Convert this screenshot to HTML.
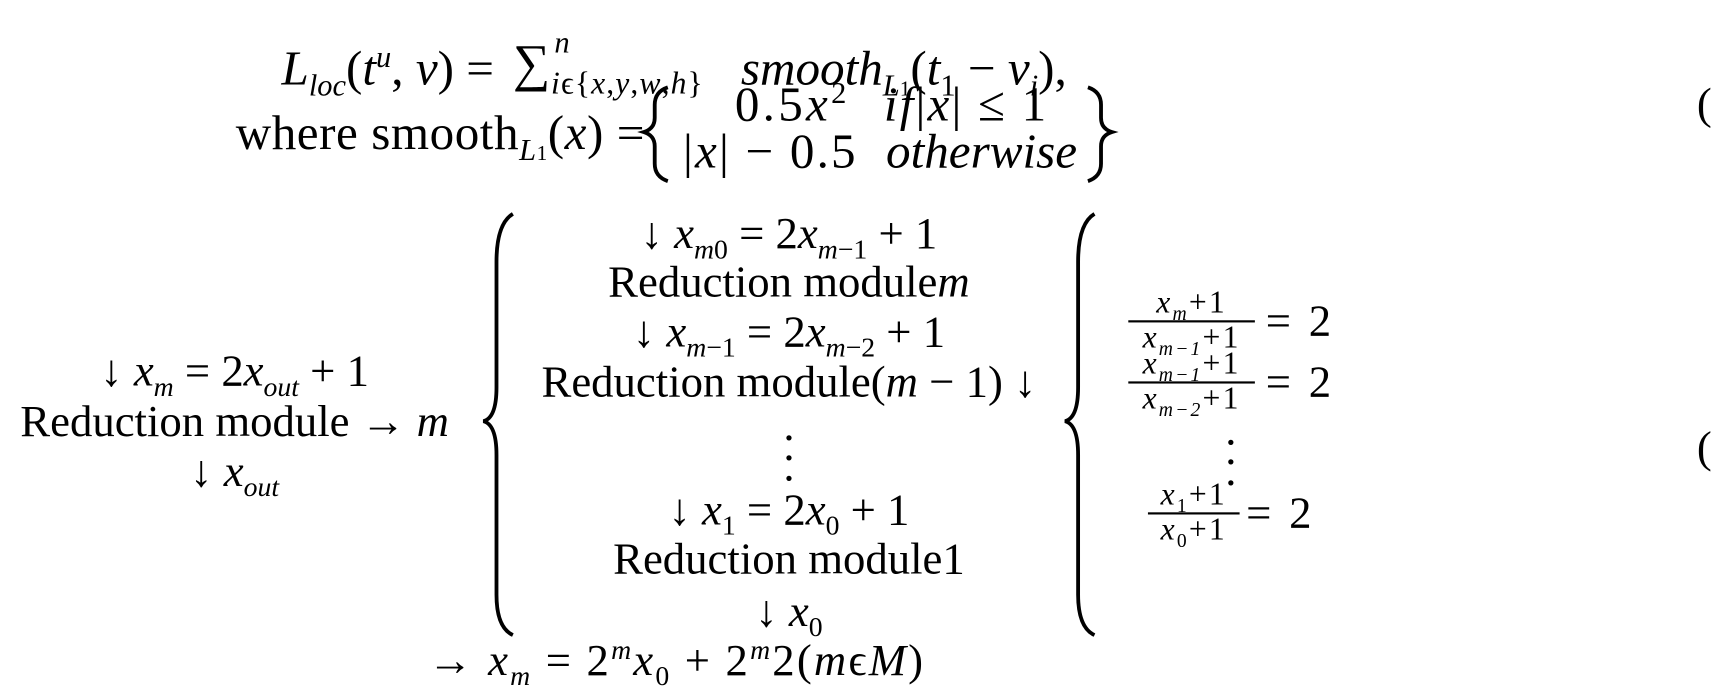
<!DOCTYPE html>
<html><head><meta charset="utf-8"><style>
body{margin:0;width:1711px;height:675px;background:#fff;position:relative;overflow:hidden;font-family:"Liberation Serif",serif;color:#000}
#w{position:absolute;left:0;top:0;width:1568px;height:619px;transform:scale(1.0912);transform-origin:0 0;font-size:41px}
.c{position:absolute;transform:translate(-50%,-50%);white-space:nowrap;line-height:1}
.l{position:absolute;transform:translateY(-50%);white-space:nowrap;line-height:1}
.t{font-size:45px}
i{font-style:italic}
sub,sup{font-size:62%;line-height:0}
.fr{position:absolute;width:116px;text-align:center;font-size:29px;line-height:1;transform:translateY(-50%)}
.fr div{letter-spacing:2px}
.fr div:first-child{border-bottom:2px solid #000;padding-bottom:1px}
</style></head><body><div id="w">
<div class="l t" style="left:258px;top:63px"><i>L</i><sub><i>loc</i></sub>(<i>t</i><sup><i>u</i></sup>, <i>v</i>) =</div>
<div class="l" style="left:470px;top:59px;font-size:48px">∑</div>
<div class="l" style="left:508px;top:40px;font-size:28px"><i>n</i></div>
<div class="l" style="left:505px;top:77px;font-size:29px;letter-spacing:1px"><i>i</i>ϵ{<i>x</i>,<i>y</i>,<i>w</i>,<i>h</i>}</div>
<div class="l t" style="left:679px;top:63px"><i>smooth</i><sub><i>L</i><span style="font-size:70%">1</span></sub>(<i>t</i><sub>1</sub> − <i>v</i><sub><i>i</i></sub>),</div>
<div class="l t" style="left:216px;top:122px;letter-spacing:0.5px">where smooth<sub><i>L</i><span style="font-size:70%">1</span></sub>(<i>x</i>) =</div>
<div class="c t" style="left:726px;top:96px;letter-spacing:3px">0.5<i>x</i><sup>2</sup></div>
<div class="c t" style="left:706px;top:139px;letter-spacing:2px">|<i>x</i>| − 0.5</div>
<div class="l t" style="left:810px;top:96px;letter-spacing:2px"><i>if</i>|<i>x</i>| ≤ 1</div>
<div class="l t" style="left:812px;top:139px"><i>otherwise</i></div>
<div class="l" style="left:1555px;top:95px">(</div>
<div class="l" style="left:1555px;top:410px">(</div>

<div class="c" style="left:215px;top:340px">↓ <i>x</i><sub><i>m</i></sub> = 2<i>x</i><sub><i>out</i></sub> + 1</div>
<div class="c" style="left:215px;top:386px">Reduction module → <i>m</i></div>
<div class="c" style="left:215px;top:432px">↓ <i>x</i><sub><i>out</i></sub></div>

<svg style="position:absolute;left:0;top:0" width="1568" height="619">
<g fill="none" stroke="#000" stroke-width="3.5">
<path d="M470 196 Q455 205 455 240 L455 355 Q455 383 443 386 Q455 389 455 417 L455 545 Q455 575 470 582"/>
<path d="M1003 196 Q988 205 988 240 L988 355 Q988 383 976 386 Q988 389 988 417 L988 545 Q988 575 1003 582"/>
<path d="M612 80 Q600 84 600 96 L600 108 Q600 118 590 121 Q600 124 600 134 L600 150 Q600 162 612 166"/>
<path d="M997 80 Q1009 84 1009 96 L1009 108 Q1009 118 1019 121 Q1009 124 1009 134 L1009 150 Q1009 162 997 166"/>
</g>
</svg>

<div class="c" style="left:723px;top:214px">↓ <i>x</i><sub><i>m</i>0</sub> = 2<i>x</i><sub><i>m</i>−1</sub> + 1</div>
<div class="c" style="left:723px;top:258px">Reduction module<i>m</i></div>
<div class="c" style="left:723px;top:304px">↓ <i>x</i><sub><i>m</i>−1</sub> = 2<i>x</i><sub><i>m</i>−2</sub> + 1</div>
<div class="c" style="left:723px;top:350px">Reduction module(<i>m</i> − 1) ↓</div>
<div class="c" style="left:723px;top:408px;line-height:0.45">.<br>.<br>.</div>
<div class="c" style="left:723px;top:467px">↓ <i>x</i><sub>1</sub> = 2<i>x</i><sub>0</sub> + 1</div>
<div class="c" style="left:723px;top:512px">Reduction module1</div>
<div class="c" style="left:723px;top:560px">↓ <i>x</i><sub>0</sub></div>
<div class="c" style="left:620px;top:605px;letter-spacing:2px">→ <i>x</i><sub><i>m</i></sub> = 2<sup><i>m</i></sup><i>x</i><sub>0</sub> + 2<sup><i>m</i></sup>2(<i>m</i>ϵ<i>M</i>)</div>

<div class="fr" style="left:1034px;top:294px"><div><i>x<sub>m</sub></i>+1</div><div><i>x<sub>m−1</sub></i>+1</div></div>
<div class="l" style="left:1160px;top:294px;word-spacing:6px">= 2</div>
<div class="fr" style="left:1034px;top:350px"><div><i>x<sub>m−1</sub></i>+1</div><div><i>x<sub>m−2</sub></i>+1</div></div>
<div class="l" style="left:1160px;top:350px;word-spacing:6px">= 2</div>
<div class="c" style="left:1128px;top:412px;line-height:0.45">.<br>.<br>.</div>
<div class="fr" style="left:1052px;top:470px;width:84px"><div><i>x</i><sub>1</sub>+1</div><div><i>x</i><sub>0</sub>+1</div></div>
<div class="l" style="left:1142px;top:470px;word-spacing:6px">= 2</div>
</div></body></html>
